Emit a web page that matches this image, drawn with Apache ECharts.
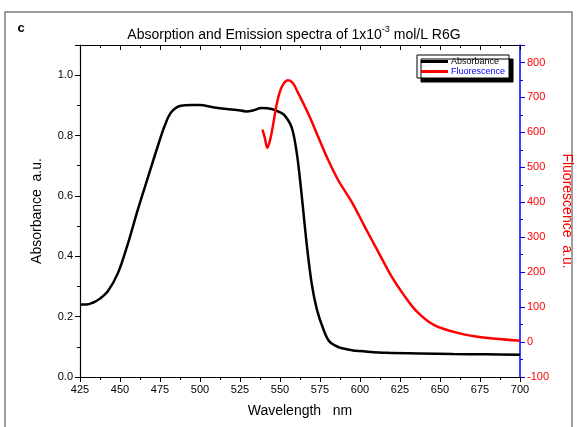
<!DOCTYPE html>
<html>
<head>
<meta charset="utf-8">
<script src="https://cdn.jsdelivr.net/npm/echarts@6/dist/echarts.min.js"></script>
<style>html,body{margin:0;padding:0;background:#fff}#c{width:577px;height:427px}</style>
</head>
<body>
<div id="c"></div>
<script>
// Absorbance (black, left axis)
var absWl  = [425, 429, 433, 437, 442.5, 448.75, 455, 461, 467.5, 473.75, 478, 482, 488, 494.6, 500, 508, 516.7, 523, 529, 533, 538.5, 544.8, 550, 553, 557.3, 560.4, 563, 566.7, 569.8, 573, 577, 581, 587.5, 591.7, 595.6, 600, 616.7, 637.5, 658, 679, 700];
var absVal = [0.240, 0.240, 0.246, 0.258, 0.285, 0.345, 0.443, 0.552, 0.662, 0.767, 0.833, 0.877, 0.899, 0.901, 0.901, 0.894, 0.888, 0.885, 0.880, 0.883, 0.891, 0.888, 0.877, 0.866, 0.827, 0.745, 0.63, 0.44, 0.31, 0.225, 0.160, 0.117, 0.097, 0.092, 0.088, 0.086, 0.080, 0.078, 0.076, 0.075, 0.074];
// Fluorescence (red, right axis)
var fluWl  = [539, 540.5, 542, 543.75, 545.8, 548, 551, 555, 558, 561.4, 567.7, 573.9, 580.2, 586.4, 594.8, 603.1, 611.4, 619.8, 628.1, 635.4, 645.8, 660.4, 677, 700];
var fluVal = [608, 585, 556, 577, 625, 682, 729, 749, 741, 712, 653, 587, 520, 463, 401, 329, 258, 187, 130, 88, 50, 27, 13, 4];
var xTicks = {min: 425, max: 700, step: 25};
var yLeft = {min: 0, max: 1.1, step: 0.2};
var yRight = {min: -100, max: 850, step: 100};

function pairs(a, b) { return a.map(function (v, i) { return [v, b[i]]; }); }

var chart = echarts.init(document.getElementById('c'), null, {renderer: 'canvas'});
var FONT = 'Liberation Sans, Arial, sans-serif';
chart.setOption({
  animation: false,
  backgroundColor: '#fff',
  textStyle: {fontFamily: FONT},
  grid: {left: 80, right: 57, top: 45, bottom: 50, containLabel: false, outerBoundsMode: 'none'},
  graphic: [
    {type: 'rect', shape: {x: 5, y: 12, width: 567, height: 430}, style: {fill: 'none', stroke: '#808080', lineWidth: 1.5}, silent: true},
    {type: 'text', x: 21, y: 28, style: {text: 'c', font: 'bold 13px ' + FONT, fill: '#000', textAlign: 'center', textVerticalAlign: 'middle'}},
    {type: 'text', x: 294, y: 35, style: {
      text: 'Absorption and Emission spectra of 1x10{sup|-3} mol/L R6G',
      font: '14px ' + FONT, fill: '#000', textAlign: 'center', textVerticalAlign: 'middle',
      rich: {sup: {fontSize: 9, fontFamily: FONT, fill: '#000', verticalAlign: 'top', padding: [0, 0, 10, 0]}}
    }}
  ],
  legend: {
    left: 417, top: 55, orient: 'vertical',
    padding: [2, 4, 2, 4], itemGap: 1,
    itemWidth: 27, itemHeight: 3, icon: 'rect',
    backgroundColor: '#fff', borderColor: '#000', borderWidth: 1, borderRadius: 0,
    shadowColor: '#000', shadowBlur: 0.01, shadowOffsetX: 4, shadowOffsetY: 4,
    textStyle: {fontSize: 9, fontFamily: FONT, padding: [0, 0, 0, -2]},
    data: [
      {name: 'Absorbance', textStyle: {color: '#000'}},
      {name: 'Fluorescence', textStyle: {color: '#0000ff'}}
    ]
  },
  xAxis: [
    {type: 'value', position: 'bottom', min: xTicks.min, max: xTicks.max, interval: xTicks.step,
     name: 'Wavelength   nm', nameLocation: 'middle', nameGap: 27,
     nameTextStyle: {fontSize: 14, color: '#000', fontFamily: FONT},
     axisLine: {onZero: false, lineStyle: {color: '#000', width: 1.2}},
     axisTick: {inside: false, length: 5, lineStyle: {color: '#000'}},
     minorTick: {show: true, splitNumber: 2, length: 3, lineStyle: {color: '#000'}},
     splitLine: {show: false},
     axisLabel: {fontSize: 11, color: '#000', margin: 7}},
    {type: 'value', position: 'top', min: xTicks.min, max: xTicks.max, interval: xTicks.step,
     axisLine: {onZero: false, lineStyle: {color: '#000', width: 1.2}},
     axisTick: {inside: true, length: 5, lineStyle: {color: '#000'}},
     minorTick: {show: true, splitNumber: 2, length: 3, lineStyle: {color: '#000'}},
     splitLine: {show: false}, axisLabel: {show: false}}
  ],
  yAxis: [
    {type: 'value', position: 'left', min: yLeft.min, max: yLeft.max, interval: yLeft.step,
     name: 'Absorbance  a.u.', nameLocation: 'middle', nameGap: 36,
     nameTextStyle: {fontSize: 14, color: '#000', fontFamily: FONT},
     axisLine: {show: true, onZero: false, lineStyle: {color: '#000', width: 1.2}},
     axisTick: {show: true, inside: false, length: 5, lineStyle: {color: '#000'}},
     minorTick: {show: true, splitNumber: 2, length: 3, lineStyle: {color: '#000'}},
     splitLine: {show: false},
     axisLabel: {fontSize: 11, color: '#000', margin: 7, showMaxLabel: false,
       formatter: function (v) { return v.toFixed(1); }}},
    {type: 'value', position: 'right', min: yRight.min, max: yRight.max, interval: yRight.step,
     name: 'Fluorescence  a.u.', nameLocation: 'middle', nameGap: 33, nameRotate: -90,
     nameTextStyle: {fontSize: 14, color: '#ff0000', fontFamily: FONT},
     axisLine: {show: true, onZero: false, lineStyle: {color: '#0000ff', width: 1.5}},
     axisTick: {show: true, inside: false, length: 5, lineStyle: {color: '#0000ff'}},
     minorTick: {show: true, splitNumber: 2, length: 3, lineStyle: {color: '#0000ff'}},
     splitLine: {show: false},
     axisLabel: {fontSize: 11, color: '#ff0000', margin: 7, showMaxLabel: false}}
  ],
  series: [
    {name: 'Absorbance', type: 'line', xAxisIndex: 0, yAxisIndex: 0, data: pairs(absWl, absVal),
     smooth: 0.35, showSymbol: false, lineStyle: {color: '#000', width: 2.5}, itemStyle: {color: '#000'}},
    {name: 'Fluorescence', type: 'line', xAxisIndex: 0, yAxisIndex: 1, data: pairs(fluWl, fluVal),
     smooth: 0.35, showSymbol: false, lineStyle: {color: '#ff0000', width: 2.5}, itemStyle: {color: '#ff0000'}}
  ]
});
</script>
</body>
</html>
